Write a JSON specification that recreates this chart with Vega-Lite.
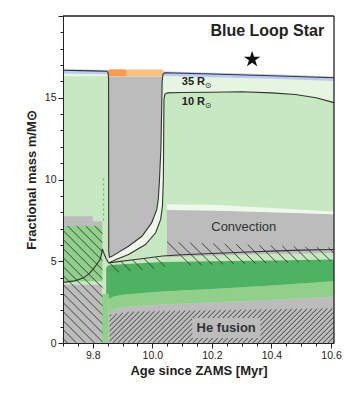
{
 "$schema": "https://vega.github.io/schema/vega-lite/v6.json",
 "width": 271, "height": 327,
 "autosize": "none",
 "padding": {"left": 63, "top": 16, "right": 11, "bottom": 50},
 "background": "white",
 "config": {"font": "Liberation Sans", "view": {"stroke": null}},
 "datasets": {
  "areas": [
   {"l":1,"p":"base","z":"vlight","x":9.7,"y":0,"y2":16.68},
   {"l":1,"p":"base","z":"vlight","x":9.85,"y":0,"y2":16.62},
   {"l":1,"p":"base","z":"vlight","x":10.0,"y":0,"y2":16.55},
   {"l":1,"p":"base","z":"vlight","x":10.2,"y":0,"y2":16.45},
   {"l":1,"p":"base","z":"vlight","x":10.4,"y":0,"y2":16.35},
   {"l":1,"p":"base","z":"vlight","x":10.61,"y":0,"y2":16.22},
   {"l":2,"p":"light","z":"light","x":9.7,"y":0,"y2":16.31},
   {"l":2,"p":"light","z":"light","x":10.036,"y":0,"y2":16.31},
   {"l":2,"p":"light","z":"light","x":10.04,"y":0,"y2":15.3},
   {"l":2,"p":"light","z":"light","x":10.1,"y":0,"y2":15.32},
   {"l":2,"p":"light","z":"light","x":10.2,"y":0,"y2":15.34},
   {"l":2,"p":"light","z":"light","x":10.3,"y":0,"y2":15.37},
   {"l":2,"p":"light","z":"light","x":10.4,"y":0,"y2":15.3},
   {"l":2,"p":"light","z":"light","x":10.48,"y":0,"y2":15.2},
   {"l":2,"p":"light","z":"light","x":10.55,"y":0,"y2":15.0},
   {"l":2,"p":"light","z":"light","x":10.61,"y":0,"y2":14.7},
   {"l":3,"p":"blue","z":"blue","x":9.7,"y":16.49,"y2":16.76},
   {"l":3,"p":"blue","z":"blue","x":9.85,"y":16.43,"y2":16.7},
   {"l":3,"p":"blue","z":"blue","x":10.0,"y":16.36,"y2":16.63},
   {"l":3,"p":"blue","z":"blue","x":10.2,"y":16.26,"y2":16.53},
   {"l":3,"p":"blue","z":"blue","x":10.4,"y":16.16,"y2":16.43},
   {"l":3,"p":"blue","z":"blue","x":10.61,"y":16.03,"y2":16.3},
   {"l":3,"p":"lgray","z":"gray","x":9.7,"y":7.15,"y2":7.75},
   {"l":3,"p":"lgray","z":"gray","x":9.8,"y":7.15,"y2":7.75},
   {"l":3,"p":"lgray","z":"gray","x":9.8001,"y":7.15,"y2":7.45},
   {"l":3,"p":"lgray","z":"gray","x":9.832,"y":7.15,"y2":7.45},
   {"l":3,"p":"lmid","z":"mid","x":9.7,"y":3.77,"y2":7.15},
   {"l":3,"p":"lmid","z":"mid","x":9.832,"y":3.77,"y2":7.15},
   {"l":3,"p":"lgray2","z":"gray","x":9.7,"y":0,"y2":3.56},
   {"l":3,"p":"lgray2","z":"gray","x":9.83,"y":0,"y2":3.56},
   {"l":3,"p":"cmid","z":"mid","x":9.83,"y":0,"y2":3.0},
   {"l":3,"p":"cmid","z":"mid","x":9.853,"y":0,"y2":3.0},
   {"l":3,"p":"hgray","z":"gray","x":9.853,"y":0,"y2":1.85},
   {"l":3,"p":"hgray","z":"gray","x":9.87,"y":0,"y2":2.05},
   {"l":3,"p":"hgray","z":"gray","x":9.9,"y":0,"y2":2.2},
   {"l":3,"p":"hgray","z":"gray","x":10.0,"y":0,"y2":2.33},
   {"l":3,"p":"hgray","z":"gray","x":10.2,"y":0,"y2":2.48},
   {"l":3,"p":"hgray","z":"gray","x":10.4,"y":0,"y2":2.65},
   {"l":3,"p":"hgray","z":"gray","x":10.61,"y":0,"y2":2.85},
   {"l":3,"p":"mband","z":"mid","x":9.853,"y":1.85,"y2":2.7},
   {"l":3,"p":"mband","z":"mid","x":9.87,"y":2.05,"y2":2.85},
   {"l":3,"p":"mband","z":"mid","x":9.9,"y":2.2,"y2":2.95},
   {"l":3,"p":"mband","z":"mid","x":10.0,"y":2.33,"y2":3.1},
   {"l":3,"p":"mband","z":"mid","x":10.2,"y":2.48,"y2":3.3},
   {"l":3,"p":"mband","z":"mid","x":10.4,"y":2.65,"y2":3.52},
   {"l":3,"p":"mband","z":"mid","x":10.61,"y":2.85,"y2":3.77},
   {"l":3,"p":"dark","z":"dark","x":9.845,"y":3.0,"y2":4.6},
   {"l":3,"p":"dark","z":"dark","x":9.853,"y":3.0,"y2":4.75},
   {"l":3,"p":"dark","z":"dark","x":9.8531,"y":2.7,"y2":4.75},
   {"l":3,"p":"dark","z":"dark","x":9.87,"y":2.85,"y2":4.78},
   {"l":3,"p":"dark","z":"dark","x":9.9,"y":2.95,"y2":4.82},
   {"l":3,"p":"dark","z":"dark","x":10.0,"y":3.1,"y2":4.92},
   {"l":3,"p":"dark","z":"dark","x":10.035,"y":3.15,"y2":4.95},
   {"l":3,"p":"dark","z":"dark","x":10.2,"y":3.3,"y2":5.0},
   {"l":3,"p":"dark","z":"dark","x":10.4,"y":3.52,"y2":5.05},
   {"l":3,"p":"dark","z":"dark","x":10.61,"y":3.77,"y2":5.1},
   {"l":3,"p":"cres","z":"white","x":9.853,"y":4.9,"y2":16.3},
   {"l":3,"p":"cres","z":"white","x":9.92,"y":5.41,"y2":16.3},
   {"l":3,"p":"cres","z":"white","x":9.977,"y":6.02,"y2":16.3},
   {"l":3,"p":"cres","z":"white","x":10.011,"y":6.74,"y2":16.3},
   {"l":3,"p":"cres","z":"white","x":10.028,"y":7.56,"y2":16.3},
   {"l":3,"p":"cres","z":"white","x":10.034,"y":8.38,"y2":16.3},
   {"l":3,"p":"cres","z":"white","x":10.037,"y":10.0,"y2":16.3},
   {"l":3,"p":"cres","z":"white","x":10.038,"y":16.3,"y2":16.3},
   {"l":3,"p":"rgray","z":"gray","x":10.049,"y":5.25,"y2":8.13},
   {"l":3,"p":"rgray","z":"gray","x":10.2,"y":5.35,"y2":8.1},
   {"l":3,"p":"rgray","z":"gray","x":10.4,"y":5.45,"y2":8.0},
   {"l":3,"p":"rgray","z":"gray","x":10.61,"y":5.5,"y2":7.87},
   {"l":3,"p":"rwhite","z":"white","x":10.049,"y":8.13,"y2":8.48},
   {"l":3,"p":"rwhite","z":"white","x":10.2,"y":8.1,"y2":8.45},
   {"l":3,"p":"rwhite","z":"white","x":10.4,"y":8.0,"y2":8.25},
   {"l":3,"p":"rwhite","z":"white","x":10.61,"y":7.87,"y2":8.05},
   {"l":4,"p":"fgray","z":"gray","x":9.8535,"y":5.21,"y2":16.3},
   {"l":4,"p":"fgray","z":"gray","x":9.858,"y":5.21,"y2":16.3},
   {"l":4,"p":"fgray","z":"gray","x":9.864,"y":5.3,"y2":16.3},
   {"l":4,"p":"fgray","z":"gray","x":9.92,"y":5.92,"y2":16.3},
   {"l":4,"p":"fgray","z":"gray","x":9.965,"y":6.53,"y2":16.3},
   {"l":4,"p":"fgray","z":"gray","x":9.998,"y":7.36,"y2":16.3},
   {"l":4,"p":"fgray","z":"gray","x":10.015,"y":8.17,"y2":16.3},
   {"l":4,"p":"fgray","z":"gray","x":10.02,"y":8.79,"y2":16.3},
   {"l":4,"p":"fgray","z":"gray","x":10.024,"y":10.0,"y2":16.3},
   {"l":4,"p":"fgray","z":"gray","x":10.029,"y":12.0,"y2":16.3},
   {"l":4,"p":"fgray","z":"gray","x":10.033,"y":16.3,"y2":16.3}
  ],
  "bands": [
   {"z":"orange","x":9.8515,"x2":10.0375,"y":16.31,"y2":16.73},
   {"z":"orange2","x":9.8515,"x2":9.913,"y":16.31,"y2":16.73}
  ],
  "lines": [
   {"c":"r35","i":0,"x":9.7,"y":16.68},
   {"c":"r35","i":1,"x":9.8,"y":16.645},
   {"c":"r35","i":2,"x":9.848,"y":16.62},
   {"c":"r35","i":3,"x":9.8515,"y":16.5},
   {"c":"r35","i":4,"x":9.853,"y":16.2},
   {"c":"r35","i":5,"x":9.8535,"y":5.6},
   {"c":"r35","i":6,"x":9.856,"y":5.25},
   {"c":"r35","i":7,"x":9.864,"y":5.3},
   {"c":"r35","i":8,"x":9.92,"y":5.92},
   {"c":"r35","i":9,"x":9.965,"y":6.53},
   {"c":"r35","i":10,"x":9.998,"y":7.36},
   {"c":"r35","i":11,"x":10.015,"y":8.17},
   {"c":"r35","i":12,"x":10.02,"y":8.79},
   {"c":"r35","i":13,"x":10.024,"y":10.0},
   {"c":"r35","i":14,"x":10.029,"y":12.0},
   {"c":"r35","i":15,"x":10.033,"y":16.0},
   {"c":"r35","i":16,"x":10.036,"y":16.45},
   {"c":"r35","i":17,"x":10.042,"y":16.53},
   {"c":"r35","i":18,"x":10.2,"y":16.45},
   {"c":"r35","i":19,"x":10.4,"y":16.35},
   {"c":"r35","i":20,"x":10.61,"y":16.22},
   {"c":"r10","i":0,"x":9.7,"y":3.71},
   {"c":"r10","i":1,"x":9.74,"y":3.8},
   {"c":"r10","i":2,"x":9.767,"y":3.97},
   {"c":"r10","i":3,"x":9.785,"y":4.2},
   {"c":"r10","i":4,"x":9.8,"y":4.49},
   {"c":"r10","i":5,"x":9.813,"y":4.8},
   {"c":"r10","i":6,"x":9.824,"y":5.1},
   {"c":"r10","i":7,"x":9.829,"y":5.4},
   {"c":"r10","i":8,"x":9.832,"y":5.76},
   {"c":"r10","i":9,"x":9.836,"y":5.55},
   {"c":"r10","i":10,"x":9.845,"y":5.15},
   {"c":"r10","i":11,"x":9.853,"y":4.9},
   {"c":"r10","i":12,"x":9.88,"y":5.12},
   {"c":"r10","i":13,"x":9.92,"y":5.41},
   {"c":"r10","i":14,"x":9.977,"y":6.02},
   {"c":"r10","i":15,"x":10.011,"y":6.74},
   {"c":"r10","i":16,"x":10.028,"y":7.56},
   {"c":"r10","i":17,"x":10.034,"y":8.38},
   {"c":"r10","i":18,"x":10.037,"y":10.0},
   {"c":"r10","i":19,"x":10.039,"y":14.9},
   {"c":"r10","i":20,"x":10.042,"y":15.2},
   {"c":"r10","i":21,"x":10.05,"y":15.3},
   {"c":"r10","i":22,"x":10.1,"y":15.32},
   {"c":"r10","i":23,"x":10.2,"y":15.34},
   {"c":"r10","i":24,"x":10.3,"y":15.37},
   {"c":"r10","i":25,"x":10.4,"y":15.3},
   {"c":"r10","i":26,"x":10.48,"y":15.2},
   {"c":"r10","i":27,"x":10.55,"y":15.0},
   {"c":"r10","i":28,"x":10.61,"y":14.7},
   {"c":"r1","i":0,"x":9.853,"y":4.9},
   {"c":"r1","i":1,"x":9.95,"y":5.12},
   {"c":"r1","i":2,"x":10.035,"y":5.32},
   {"c":"r1","i":3,"x":10.1,"y":5.4},
   {"c":"r1","i":4,"x":10.2,"y":5.47},
   {"c":"r1","i":5,"x":10.3,"y":5.55},
   {"c":"r1","i":6,"x":10.4,"y":5.62},
   {"c":"r1","i":7,"x":10.5,"y":5.68},
   {"c":"r1","i":8,"x":10.61,"y":5.72}
  ],
  "frame": [
   {"x":9.7,"y":20,"x2":10.61,"y2":20},
   {"x":10.61,"y":0,"x2":10.61,"y2":20}
  ],
  "hatch": [
   {"x":9.7,"y":0.276,"x2":9.7152,"y2":0},
   {"x":9.7,"y":0.827,"x2":9.7455,"y2":0},
   {"x":9.7,"y":1.378,"x2":9.7758,"y2":0},
   {"x":9.7,"y":1.929,"x2":9.8061,"y2":0},
   {"x":9.7,"y":2.48,"x2":9.8327,"y2":0.067},
   {"x":9.7,"y":3.031,"x2":9.8327,"y2":0.618},
   {"x":9.7,"y":3.582,"x2":9.8327,"y2":1.17},
   {"x":9.7,"y":4.133,"x2":9.8327,"y2":1.721},
   {"x":9.7,"y":4.685,"x2":9.8327,"y2":2.272},
   {"x":9.7,"y":5.236,"x2":9.8327,"y2":2.823},
   {"x":9.7,"y":5.787,"x2":9.8327,"y2":3.374},
   {"x":9.7,"y":6.338,"x2":9.8327,"y2":3.925},
   {"x":9.7,"y":6.889,"x2":9.8327,"y2":4.476},
   {"x":9.7158,"y":7.152,"x2":9.8327,"y2":5.028},
   {"x":9.7461,"y":7.152,"x2":9.8327,"y2":5.579},
   {"x":9.7764,"y":7.152,"x2":9.8327,"y2":6.13},
   {"x":9.8067,"y":7.152,"x2":9.8327,"y2":6.681},
   {"x":9.856,"y":4.907,"x2":9.8884,"y2":4.318},
   {"x":9.8947,"y":4.992,"x2":9.9276,"y2":4.393},
   {"x":9.9334,"y":5.077,"x2":9.9669,"y2":4.468},
   {"x":9.9721,"y":5.162,"x2":10.0061,"y2":4.544},
   {"x":10.0108,"y":5.247,"x2":10.043,"y2":4.661},
   {"x":10.0495,"y":6.194,"x2":10.1291,"y2":4.746},
   {"x":10.0882,"y":6.168,"x2":10.1653,"y2":4.766},
   {"x":10.1269,"y":6.142,"x2":10.2015,"y2":4.785},
   {"x":10.1656,"y":6.116,"x2":10.2377,"y2":4.804},
   {"x":10.2043,"y":6.09,"x2":10.274,"y2":4.822},
   {"x":10.243,"y":6.065,"x2":10.3102,"y2":4.843},
   {"x":10.2817,"y":6.039,"x2":10.3465,"y2":4.86},
   {"x":10.3204,"y":6.013,"x2":10.3827,"y2":4.88},
   {"x":10.3591,"y":5.987,"x2":10.4189,"y2":4.899},
   {"x":10.3978,"y":5.961,"x2":10.4551,"y2":4.919},
   {"x":10.4365,"y":5.936,"x2":10.4914,"y2":4.937},
   {"x":10.4752,"y":5.91,"x2":10.5276,"y2":4.957},
   {"x":10.5139,"y":5.884,"x2":10.5639,"y2":4.974},
   {"x":10.5526,"y":5.858,"x2":10.6,"y2":4.996},
   {"x":10.5913,"y":5.832,"x2":10.61,"y2":5.492},
   {"x":9.856,"y":1.637,"x2":9.8614,"y2":1.735},
   {"x":9.856,"y":1.332,"x2":9.8811,"y2":1.788},
   {"x":9.856,"y":1.026,"x2":9.9008,"y2":1.841},
   {"x":9.856,"y":0.72,"x2":9.9205,"y2":1.894},
   {"x":9.856,"y":0.415,"x2":9.9389,"y2":1.923},
   {"x":9.856,"y":0.109,"x2":9.956,"y2":1.928},
   {"x":9.8668,"y":0,"x2":9.9731,"y2":1.933},
   {"x":9.8836,"y":0,"x2":9.9901,"y2":1.938},
   {"x":9.9004,"y":0,"x2":10.0072,"y2":1.943},
   {"x":9.9172,"y":0,"x2":10.0243,"y2":1.948},
   {"x":9.934,"y":0,"x2":10.0414,"y2":1.953},
   {"x":9.9508,"y":0,"x2":10.0585,"y2":1.959},
   {"x":9.9676,"y":0,"x2":10.0756,"y2":1.964},
   {"x":9.9844,"y":0,"x2":10.0926,"y2":1.969},
   {"x":10.0012,"y":0,"x2":10.1097,"y2":1.974},
   {"x":10.018,"y":0,"x2":10.1268,"y2":1.979},
   {"x":10.0348,"y":0,"x2":10.1439,"y2":1.984},
   {"x":10.0516,"y":0,"x2":10.161,"y2":1.989},
   {"x":10.0684,"y":0,"x2":10.178,"y2":1.994},
   {"x":10.0852,"y":0,"x2":10.1951,"y2":1.999},
   {"x":10.102,"y":0,"x2":10.2122,"y2":2.005},
   {"x":10.1188,"y":0,"x2":10.2293,"y2":2.01},
   {"x":10.1356,"y":0,"x2":10.2464,"y2":2.015},
   {"x":10.1524,"y":0,"x2":10.2634,"y2":2.02},
   {"x":10.1692,"y":0,"x2":10.2805,"y2":2.025},
   {"x":10.186,"y":0,"x2":10.2976,"y2":2.03},
   {"x":10.2028,"y":0,"x2":10.3147,"y2":2.035},
   {"x":10.2196,"y":0,"x2":10.3318,"y2":2.041},
   {"x":10.2364,"y":0,"x2":10.3488,"y2":2.046},
   {"x":10.2532,"y":0,"x2":10.3659,"y2":2.051},
   {"x":10.27,"y":0,"x2":10.383,"y2":2.056},
   {"x":10.2868,"y":0,"x2":10.4001,"y2":2.061},
   {"x":10.3036,"y":0,"x2":10.4172,"y2":2.066},
   {"x":10.3204,"y":0,"x2":10.4342,"y2":2.071},
   {"x":10.3372,"y":0,"x2":10.4513,"y2":2.076},
   {"x":10.354,"y":0,"x2":10.4684,"y2":2.082},
   {"x":10.3708,"y":0,"x2":10.4855,"y2":2.087},
   {"x":10.3876,"y":0,"x2":10.5026,"y2":2.092},
   {"x":10.4044,"y":0,"x2":10.5196,"y2":2.097},
   {"x":10.4212,"y":0,"x2":10.5367,"y2":2.102},
   {"x":10.438,"y":0,"x2":10.5538,"y2":2.107},
   {"x":10.4548,"y":0,"x2":10.5709,"y2":2.112},
   {"x":10.4716,"y":0,"x2":10.588,"y2":2.117},
   {"x":10.4884,"y":0,"x2":10.605,"y2":2.122},
   {"x":10.5052,"y":0,"x2":10.61,"y2":1.906},
   {"x":10.522,"y":0,"x2":10.61,"y2":1.601},
   {"x":10.5388,"y":0,"x2":10.61,"y2":1.295},
   {"x":10.5556,"y":0,"x2":10.61,"y2":0.99},
   {"x":10.5724,"y":0,"x2":10.61,"y2":0.684},
   {"x":10.5892,"y":0,"x2":10.61,"y2":0.378},
   {"x":10.606,"y":0,"x2":10.61,"y2":0.073}
  ]
 },
 "encoding": {
  "x": {"field": "x", "type": "quantitative",
   "scale": {"domain": [9.7, 10.61], "nice": false, "zero": false},
   "axis": {"title": "Age since ZAMS [Myr]",
    "values": [9.7,9.75,9.8,9.85,9.9,9.95,10,10.05,10.1,10.15,10.2,10.25,10.3,10.35,10.4,10.45,10.5,10.55,10.6],
    "labelExpr": "abs(datum.value*5 - round(datum.value*5)) < 0.001 ? format(datum.value, '.1f') : ''",
    "tickSize": {"condition": {"test": "abs(datum.value*5 - round(datum.value*5)) < 0.001", "value": 5}, "value": 3},
    "grid": false, "labelOverlap": false, "labelFlush": false,
    "domainColor": "#222", "tickColor": "#222", "labelColor": "#222",
    "labelFontSize": 10.5, "labelPadding": 2,
    "titleFontSize": 13, "titleFontWeight": "bold", "titleColor": "#222", "titlePadding": 4, "zindex": 1}},
  "y": {"field": "y", "type": "quantitative", "stack": null,
   "scale": {"domain": [0, 20], "nice": false, "zero": false},
   "axis": {"title": "Fractional mass m/M⊙",
    "values": [0,1,2,3,4,5,6,7,8,9,10,11,12,13,14,15,16,17,18,19,20],
    "labelExpr": "datum.value % 5 == 0 && datum.value < 20 ? datum.label : ''",
    "tickSize": {"condition": {"test": "datum.value % 5 == 0", "value": 5}, "value": 3},
    "grid": false, "labelOverlap": false, "labelFlush": false,
    "domainColor": "#222", "tickColor": "#222", "labelColor": "#222",
    "labelFontSize": 10.5, "labelPadding": 2,
    "titleFontSize": 13, "titleFontWeight": "bold", "titleColor": "#222", "titlePadding": 6, "zindex": 1}}
 },
 "layer": [
  {"data": {"name": "areas"}, "transform": [{"filter": "datum.l == 1"}],
   "mark": {"type": "area", "interpolate": "linear"},
   "encoding": {"y2": {"field": "y2"}, "detail": {"field": "p"},
    "color": {"field": "z", "type": "nominal", "legend": null,
     "scale": {"domain": ["vlight","light","blue","gray","mid","dark","white","orange","orange2"],
      "range": ["#e6f4e2","#c7e8c0","#b9cbf2","#bcbcbc","#90d08b","#4fb263","#eff8ec","#fdbe82","#fc9a4e"]}}}},
  {"data": {"name": "areas"}, "transform": [{"filter": "datum.l == 2"}],
   "mark": {"type": "area", "interpolate": "linear"},
   "encoding": {"y2": {"field": "y2"}, "detail": {"field": "p"},
    "color": {"field": "z", "type": "nominal", "legend": null}}},
  {"data": {"name": "areas"}, "transform": [{"filter": "datum.l == 3"}],
   "mark": {"type": "area", "interpolate": "linear"},
   "encoding": {"y2": {"field": "y2"}, "detail": {"field": "p"},
    "color": {"field": "z", "type": "nominal", "legend": null}}},
  {"data": {"name": "areas"}, "transform": [{"filter": "datum.l == 4"}],
   "mark": {"type": "area", "interpolate": "linear"},
   "encoding": {"y2": {"field": "y2"}, "detail": {"field": "p"},
    "color": {"field": "z", "type": "nominal", "legend": null}}},
  {"data": {"name": "bands"},
   "mark": {"type": "rect", "cornerRadius": 2},
   "encoding": {"x2": {"field": "x2"}, "y2": {"field": "y2"},
    "color": {"field": "z", "type": "nominal", "legend": null}}},
  {"data": {"name": "hatch"},
   "mark": {"type": "rule", "color": "#333", "strokeWidth": 0.9},
   "encoding": {"x2": {"field": "x2"}, "y2": {"field": "y2"}}},
  {"data": {"values": [{"x": 9.836, "y": 7.5, "x2": 9.836, "y2": 10.2}]},
   "mark": {"type": "rule", "color": "#6cc06a", "strokeWidth": 1.3, "strokeDash": [2, 3]},
   "encoding": {"x2": {"field": "x2"}, "y2": {"field": "y2"}}},
  {"data": {"values": [{"x": 10.134, "x2": 10.363, "y": 0.31, "y2": 1.53}]},
   "mark": {"type": "rect", "color": "#bcbcbc"},
   "encoding": {"x2": {"field": "x2"}, "y2": {"field": "y2"}}},
  {"data": {"name": "lines"},
   "mark": {"type": "line", "color": "#333", "strokeWidth": 1.1},
   "encoding": {"detail": {"field": "c"}, "order": {"field": "i", "type": "quantitative"}}},
  {"data": {"values": [{"t": "Blue Loop Star", "x": 10.386, "y": 19.08}]},
   "mark": {"type": "text", "fontSize": 16, "fontWeight": "bold", "color": "#222", "align": "center", "baseline": "middle"},
   "encoding": {"text": {"field": "t"}}},
  {"data": {"values": [{"t": "35 R", "x": 10.099, "y": 15.96}, {"t": "10 R", "x": 10.099, "y": 14.73}]},
   "mark": {"type": "text", "fontSize": 11, "fontWeight": "bold", "color": "#222", "align": "left", "baseline": "middle"},
   "encoding": {"text": {"field": "t"}}},
  {"data": {"values": [{"t": "⊙", "x": 10.187, "y": 15.74}, {"t": "⊙", "x": 10.187, "y": 14.51}]},
   "mark": {"type": "text", "fontSize": 8, "color": "#222", "align": "center", "baseline": "middle", "font": "DejaVu Sans"},
   "encoding": {"text": {"field": "t"}}},
  {"data": {"values": [{"t": "Convection", "x": 10.307, "y": 7.1}]},
   "mark": {"type": "text", "fontSize": 13, "color": "#333", "align": "center", "baseline": "middle"},
   "encoding": {"text": {"field": "t"}}},
  {"data": {"values": [{"t": "He fusion", "x": 10.248, "y": 0.92}]},
   "mark": {"type": "text", "fontSize": 13, "fontWeight": "bold", "color": "#333", "align": "center", "baseline": "middle"},
   "encoding": {"text": {"field": "t"}}},
  {"data": {"values": [{"x": 10.335, "y": 17.35}]},
   "mark": {"type": "point", "filled": true, "color": "#111", "opacity": 1, "size": 300,
    "shape": "M0,-1L0.2245,-0.309L0.9511,-0.309L0.3633,0.118L0.5878,0.809L0,0.382L-0.5878,0.809L-0.3633,0.118L-0.9511,-0.309L-0.2245,-0.309Z"}},
  {"data": {"name": "frame"},
   "mark": {"type": "rule", "color": "#222", "strokeWidth": 1.3},
   "encoding": {"x2": {"field": "x2"}, "y2": {"field": "y2"}}}
 ]
}
